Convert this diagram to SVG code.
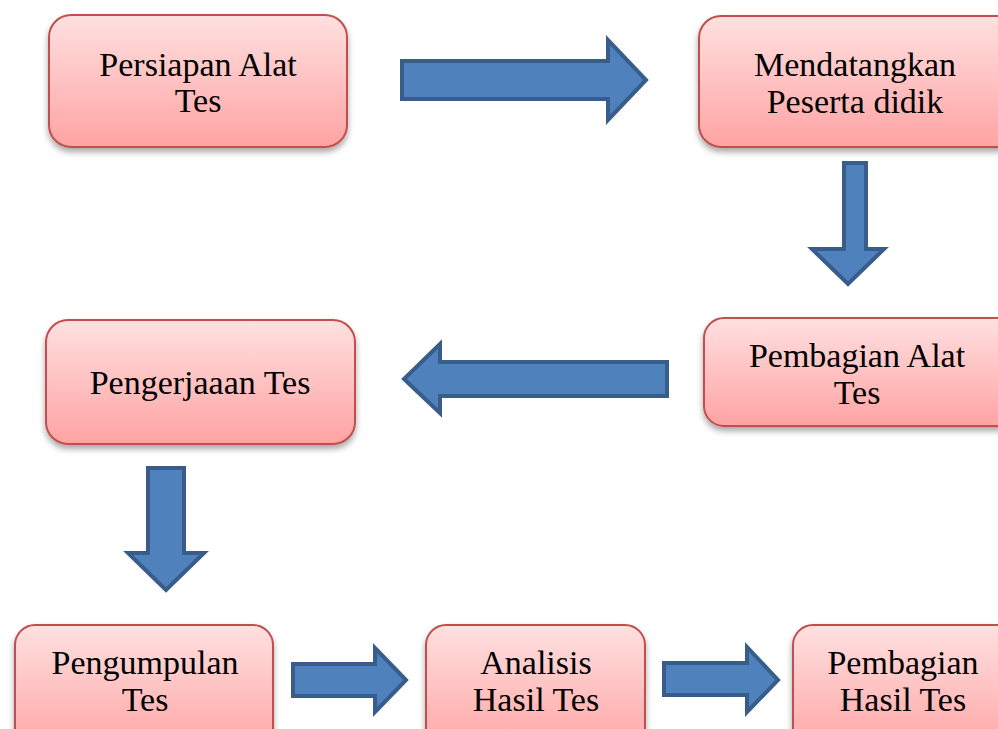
<svg xmlns="http://www.w3.org/2000/svg" width="998" height="729" viewBox="0 0 998 729">
<defs>
<linearGradient id="g" x1="0" y1="0" x2="0" y2="1">
<stop offset="0" stop-color="#ffe0e0"/>
<stop offset="1" stop-color="#ffa3a3"/>
</linearGradient>
<filter id="sh" x="-10%" y="-10%" width="120%" height="130%">
<feGaussianBlur in="SourceAlpha" stdDeviation="3"/>
<feOffset dx="0" dy="4" result="b"/>
<feComponentTransfer><feFuncA type="linear" slope="0.35"/></feComponentTransfer>
<feMerge><feMergeNode/><feMergeNode in="SourceGraphic"/></feMerge>
</filter>
</defs>
<style>
.n{fill:url(#g);stroke:#c0504d;stroke-width:2;filter:url(#sh)}
.t{font-family:"Liberation Serif",serif;font-size:34px;fill:#000;text-anchor:middle}
.a{fill:#4f81bd;stroke:#385d8a;stroke-width:4;stroke-linejoin:miter}
</style>
<rect width="998" height="729" fill="#fff"/>
<g id="connectors">
<path class="a" d="M402,61 H608 V40 L646,80 L608,120 V99 H402 Z"/>
<path class="a" d="M844,163 H866 V249 H884 L848,284 L812,249 H844 Z"/>
<path class="a" d="M667,362 H440 V344 L404,379 L440,413 V396 H667 Z"/>
<path class="a" d="M148,468 H184 V553 H204 L166,590 L128,553 H148 Z"/>
<path class="a" d="M293,664 H375 V648 L406,680 L375,712 V696 H293 Z"/>
<path class="a" d="M664,663 H747 V647 L778,680 L747,712 V695 H664 Z"/>
</g>
<g id="n1"><rect class="n" x="49" y="15" width="298" height="132" rx="22"/>
<text class="t" x="198" y="76">Persiapan Alat</text><text class="t" x="198" y="112">Tes</text></g>
<g id="n2"><rect class="n" x="699" y="16" width="320" height="131" rx="22"/>
<text class="t" x="855" y="76">Mendatangkan</text><text class="t" x="855" y="113">Peserta didik</text></g>
<g id="n3"><rect class="n" x="704" y="318" width="320" height="108" rx="20"/>
<text class="t" x="857" y="367">Pembagian Alat</text><text class="t" x="857" y="404">Tes</text></g>
<g id="n4"><rect class="n" x="46" y="320" width="309" height="124" rx="22"/>
<text class="t" x="200" y="394">Pengerjaaan Tes</text></g>
<g id="n5"><rect class="n" x="15" y="625" width="258" height="130" rx="20"/>
<text class="t" x="145" y="674">Pengumpulan</text><text class="t" x="145" y="711">Tes</text></g>
<g id="n6"><rect class="n" x="426" y="625" width="219" height="130" rx="20"/>
<text class="t" x="536" y="674">Analisis</text><text class="t" x="536" y="711">Hasil Tes</text></g>
<g id="n7"><rect class="n" x="793" y="625" width="230" height="130" rx="20"/>
<text class="t" x="903" y="674">Pembagian</text><text class="t" x="903" y="711">Hasil Tes</text></g>
</svg>
